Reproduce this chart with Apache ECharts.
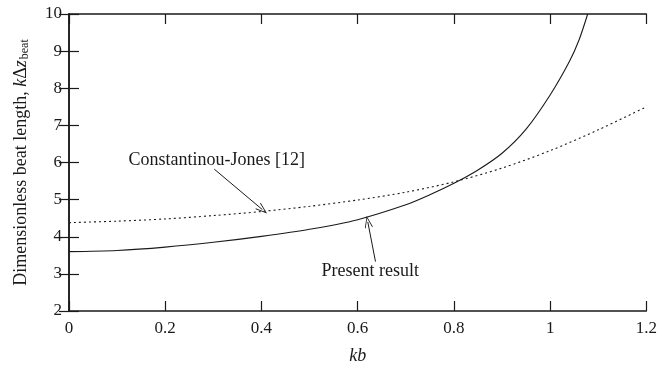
<!DOCTYPE html>
<html>
<head>
<meta charset="utf-8">
<script src="https://cdn.jsdelivr.net/npm/echarts@6/dist/echarts.min.js"></script>
<style>
  html, body { margin: 0; padding: 0; background: #fff; }
  #chart { width: 660px; height: 370px; }
</style>
</head>
<body>
<div id="chart"></div>
<script>
// present result (solid)
const kbPresent = [0, 0.1, 0.2, 0.3, 0.4, 0.5, 0.6, 0.7, 0.75, 0.8, 0.85, 0.9, 0.95, 1.0, 1.04, 1.06, 1.078];
const presentResult = [3.60, 3.63, 3.72, 3.85, 4.01, 4.20, 4.46, 4.86, 5.13, 5.44, 5.80, 6.25, 6.90, 7.82, 8.72, 9.30, 10.0];

// Constantinou-Jones [12] (dotted)
const kbCJ = [0, 0.1, 0.2, 0.3, 0.4, 0.5, 0.6, 0.7, 0.8, 0.9, 1.0, 1.1, 1.2];
const constantinouJones = [4.38, 4.42, 4.48, 4.57, 4.68, 4.82, 4.99, 5.20, 5.48, 5.85, 6.32, 6.88, 7.50];

// annotation texts and arrows, in data coordinates
const labelCJ = { text: "Constantinou-Jones [12]", at: [0.307, 6.07], from: [0.302, 5.82], to: [0.402, 4.73] };
const labelPresent = { text: "Present result", at: [0.626, 3.08], from: [0.637, 3.33], to: [0.621, 4.40] };

const serif = "'Liberation Serif', 'DejaVu Serif', serif";
const ink = "#1a1a1a";
const arrowHead = "path://M0,0 L6,12 L5,12.6 L0,2.4 L-5,12.6 L-6,12 Z";

const chart = echarts.init(document.getElementById("chart"));

const fmt = (v) => String(+v.toFixed(1));

const boxAxis = (extra) => Object.assign({
  type: "value",
  axisLine: { show: true, lineStyle: { color: ink, width: 1.5 } },
  axisTick: { show: true, inside: true, length: 10, lineStyle: { color: ink, width: 1.2 } },
  splitLine: { show: false },
  axisLabel: { show: false },
}, extra);

const arrow = (a) => [
  { coord: a.from, symbol: "none" },
  { coord: a.to, symbol: arrowHead, symbolSize: [8, 12] },
];

chart.setOption({
  animation: false,
  grid: { left: 69, right: 11, top: 14, bottom: 51 },
  xAxis: [
    boxAxis({
      min: 0, max: 1.2, interval: 0.2, position: "bottom",
      name: "kb", nameLocation: "middle", nameGap: 36,
      nameTextStyle: { fontFamily: serif, fontStyle: "italic", fontSize: 18, color: ink },
      axisLabel: { show: true, margin: 9, fontFamily: serif, fontSize: 17, color: ink, formatter: fmt },
    }),
    boxAxis({ min: 0, max: 1.2, interval: 0.2, position: "top" }),
  ],
  yAxis: [
    boxAxis({
      min: 2, max: 10, interval: 1, position: "left",
      name: "{t|Dimensionless beat length, }{i|k}{t|\u0394}{i|z}{s|beat}",
      nameLocation: "middle", nameGap: 38, nameRotate: 90,
      nameTextStyle: {
        fontFamily: serif, fontSize: 18, color: ink,
        rich: {
          t: { fontFamily: serif, fontSize: 18, color: ink },
          i: { fontFamily: serif, fontSize: 18, color: ink, fontStyle: "italic" },
          s: { fontFamily: serif, fontSize: 12, color: ink, padding: [8, 0, 0, 1] },
        },
      },
      axisLabel: { show: true, margin: 7, fontFamily: serif, fontSize: 17, color: ink },
    }),
    boxAxis({ min: 2, max: 10, interval: 1, position: "right" }),
  ],
  series: [
    {
      name: "Present result",
      type: "line",
      data: kbPresent.map((k, i) => [k, presentResult[i]]),
      smooth: 0.3,
      showSymbol: false,
      clip: true,
      lineStyle: { color: ink, width: 1.1 },
      markLine: {
        silent: true,
        symbol: ["none", "none"],
        lineStyle: { color: ink, width: 1, type: "solid" },
        label: { show: false },
        data: [arrow(labelCJ), arrow(labelPresent)],
      },
    },
    {
      name: "Constantinou-Jones [12]",
      type: "line",
      data: kbCJ.map((k, i) => [k, constantinouJones[i]]),
      smooth: 0.3,
      showSymbol: false,
      lineStyle: { color: ink, width: 1.1, type: [2, 3] },
    },
  ],
});

// place annotation texts at their data positions
const placeText = (a) => {
  const p = chart.convertToPixel({ gridIndex: 0 }, a.at);
  return {
    type: "text", x: p[0], y: p[1], silent: true,
    style: { text: a.text, fill: ink, font: "18px " + serif, align: "center", verticalAlign: "middle" },
  };
};
chart.setOption({ graphic: [placeText(labelCJ), placeText(labelPresent)] });
</script>
</body>
</html>
